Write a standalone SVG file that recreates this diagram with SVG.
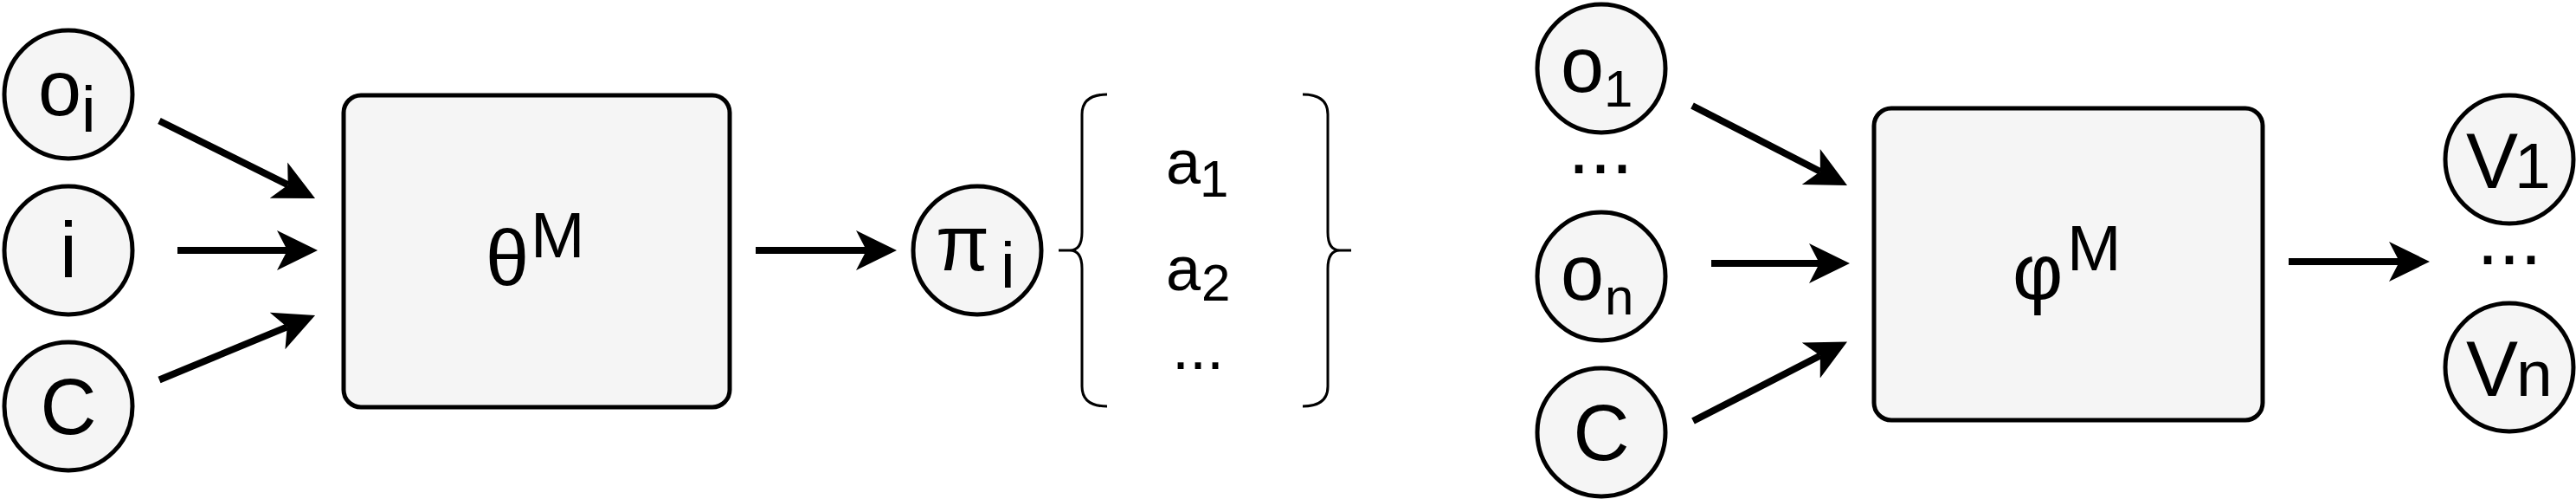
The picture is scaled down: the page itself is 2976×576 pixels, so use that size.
<svg xmlns="http://www.w3.org/2000/svg" width="2976" height="576" viewBox="0 0 2976 576">
<style>
.node{fill:#f5f5f5;stroke:#000;stroke-width:5}
.t{font-family:"Liberation Sans",Arial,Helvetica,sans-serif;fill:#000}
.f90{font-size:90px}
.f75{font-size:75px}
.f72{font-size:72px}
.f60{font-size:60px}
.edge{stroke:#000;stroke-width:8;fill:none;marker-end:url(#arr)}
.brace{stroke:#000;stroke-width:3;fill:none}
</style>
<defs>
<marker id="arr" viewBox="0 0 48 48" markerWidth="48" markerHeight="48" refX="12" refY="24" markerUnits="userSpaceOnUse" orient="auto">
<path d="M47,24 L0,1 L12,24 L0,47 Z" fill="#000"/>
</marker>
</defs>
<rect width="2976" height="576" fill="#fff"/>
<g id="connectors">
<line class="edge" x1="184" y1="139.5" x2="332.7" y2="213.4"/>
<line class="edge" x1="205" y1="289" x2="332" y2="289"/>
<line class="edge" x1="184" y1="438.5" x2="331.7" y2="377.4"/>
<line class="edge" x1="873" y1="289" x2="1001" y2="289"/>
<line class="edge" x1="1955" y1="122" x2="2102.9" y2="198"/>
<line class="edge" x1="1977" y1="304" x2="2102" y2="304"/>
<line class="edge" x1="1956" y1="486" x2="2102.9" y2="410.5"/>
<line class="edge" x1="2644" y1="302" x2="2772" y2="302"/>
</g>
<g id="node-oi">
<circle class="node" cx="79" cy="109" r="74"/>
<text class="t f90" x="44" y="133">o<tspan class="f75" x="94" y="152">i</tspan></text>
</g>
<g id="node-i">
<circle class="node" cx="79" cy="289" r="74"/>
<text class="t f90" x="79" y="320" text-anchor="middle">i</text>
</g>
<g id="node-c">
<circle class="node" cx="79" cy="469" r="74"/>
<text class="t f90" x="79" y="501" text-anchor="middle">C</text>
</g>
<g id="node-theta">
<rect class="node" x="397" y="110" width="446" height="360" rx="20" ry="20"/>
<text class="t f90" x="561" y="329">θ<tspan class="f75" x="613" y="297">M</tspan></text>
</g>
<g id="node-pi">
<circle class="node" cx="1129" cy="289" r="74"/>
<text class="t f90" x="1081" y="312">π<tspan class="f75" x="1156" y="332">i</tspan></text>
</g>
<g id="node-actions">
<path class="brace" d="M1279,109 Q1250,109 1250,132 V268 Q1250,289 1236,289 H1223 M1236,289 Q1250,289 1250,310 V446 Q1250,469 1279,469"/>
<path class="brace" d="M1505,109 Q1534,109 1534,132 V268 Q1534,289 1548,289 H1561 M1548,289 Q1534,289 1534,310 V446 Q1534,469 1505,469"/>
<text class="t f72" x="1347" y="211.5">a<tspan class="f60" x="1386" y="227">1</tspan></text>
<text class="t f72" x="1347" y="335">a<tspan class="f60" x="1388" y="347">2</tspan></text>
<text class="t f72" x="1384" y="426" text-anchor="middle">...</text>
</g>
<g id="node-o1">
<circle class="node" cx="1850" cy="79" r="74"/>
<text class="t f90" x="1803" y="106">o<tspan class="f60" x="1853" y="123">1</tspan></text>
</g>
<text class="t f90" x="1849" y="200" text-anchor="middle">...</text>
<g id="node-on">
<circle class="node" cx="1850" cy="319" r="74"/>
<text class="t f90" x="1803" y="346">o<tspan class="f60" x="1854" y="363">n</tspan></text>
</g>
<g id="node-c2">
<circle class="node" cx="1850" cy="499" r="74"/>
<text class="t f90" x="1850" y="531" text-anchor="middle">C</text>
</g>
<g id="node-phi">
<rect class="node" x="2165" y="125" width="449" height="360" rx="20" ry="20"/>
<text class="t f90" x="2325" y="345">φ<tspan class="f75" x="2388" y="312">M</tspan></text>
</g>
<g id="node-v1">
<circle class="node" cx="2899" cy="184" r="74"/>
<text class="t f90" x="2849" y="216.5">V<tspan class="f75" x="2905" y="216.5">1</tspan></text>
</g>
<text class="t f90" x="2899" y="305" text-anchor="middle">...</text>
<g id="node-vn">
<circle class="node" cx="2899" cy="424" r="74"/>
<text class="t f90" x="2849" y="456.5">V<tspan class="f75" x="2907" y="456.5">n</tspan></text>
</g>
</svg>
